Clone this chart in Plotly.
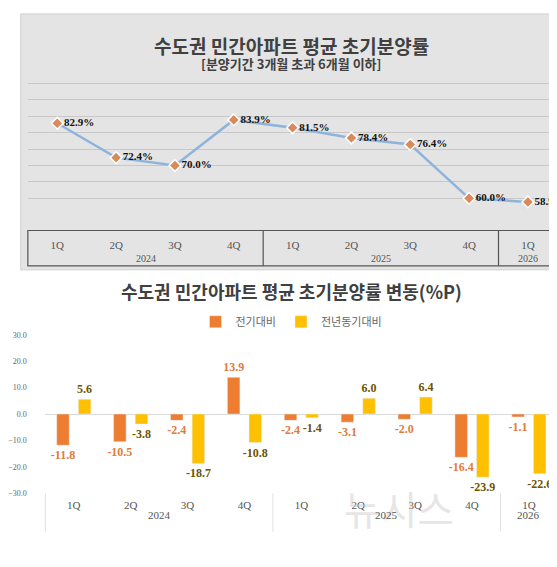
import plotly.graph_objects as go

quarters = ["1Q", "2Q", "3Q", "4Q", "1Q", "2Q", "3Q", "4Q", "1Q"]
years = ["2024", "2025", "2026"]
year_centers = [1.5, 5.5, 8]
year_dividers = [3.5, 7.5]
rate = [82.9, 72.4, 70.0, 83.9, 81.5, 78.4, 76.4, 60.0, 58.9]
qoq = [-11.8, -10.5, -2.4, 13.9, -2.4, -3.1, -2.0, -16.4, -1.1]
yoy = [5.6, -3.8, -18.7, -10.8, -1.4, 6.0, 6.4, -23.9, -22.6]

H = 567
def py(px):
    return 1 - px / H

xs = list(range(len(quarters)))
serif = "Liberation Serif"
sans = "Noto Sans CJK KR"

fig = go.Figure()

# 상단: 초기분양률 라인
fig.add_trace(go.Scatter(
    x=xs, y=rate, mode="lines+markers+text",
    line=dict(color="#8fb4dc", width=2.5),
    marker=dict(symbol="diamond", size=9, color="#d9895a", line=dict(color="white", width=1.5)),
    text=[f"<b>{v:.1f}%</b>" for v in rate], textposition="middle right",
    textfont=dict(family=serif, size=11, color="#111111"),
    xaxis="x", yaxis="y", showlegend=False, cliponaxis=False,
))

# 하단: 변동 막대
fig.add_trace(go.Bar(
    x=xs, y=qoq, name="전기대비", marker_color="#ed7d31", width=0.22, offset=-0.3,
    text=[f"<b>{v:.1f}</b>" for v in qoq], textposition="outside", constraintext="none",
    textfont=dict(family=serif, size=12, color="#e07b3c"),
    xaxis="x2", yaxis="y2", cliponaxis=False,
))
fig.add_trace(go.Bar(
    x=xs, y=yoy, name="전년동기대비", marker_color="#ffc000", width=0.22, offset=0.08,
    text=[f"<b>{v:.1f}</b>" for v in yoy], textposition="outside", constraintext="none",
    textfont=dict(family=serif, size=12, color="#6b5300"),
    xaxis="x2", yaxis="y2", cliponaxis=False,
))

ax_common = dict(range=[-0.5, 8.5], tickmode="array", tickvals=xs, ticktext=quarters,
                 tickfont=dict(family=serif, size=11, color="#555555"), showgrid=False, zeroline=False)

fig.update_layout(
    width=557, height=567, margin=dict(l=0, r=0, t=0, b=0),
    paper_bgcolor="white", plot_bgcolor="rgba(0,0,0,0)",
    xaxis=dict(domain=[0.018, 0.986], anchor="y", ticks="", ticklabelstandoff=22, **ax_common),
    yaxis=dict(domain=[py(206), py(56)], range=[55, 100], dtick=5, showticklabels=False,
               showgrid=True, gridcolor="#c8c8c8", gridwidth=1, zeroline=False),
    xaxis2=dict(domain=[0.050, 0.986], anchor="y2", ticks="", ticklabelstandoff=4, **ax_common),
    yaxis2=dict(domain=[py(489), py(328)], range=[-30, 30], dtick=10, tickformat=".1f",
                tickfont=dict(family=serif, size=8, color="#666666"), showgrid=False,
                zeroline=True, zerolinecolor="#d9d9d9", zerolinewidth=1),
    barmode="overlay",
    legend=dict(orientation="h", x=0.5, xanchor="center", y=py(300), yanchor="top",
                font=dict(family=sans, size=11, color="#666666"), bgcolor="rgba(0,0,0,0)",
                itemwidth=30, tracegroupgap=0),
)

shapes = [
    dict(type="rect", xref="paper", yref="paper", x0=0.005, x1=0.995, y0=py(262), y1=py(2),
         fillcolor="#e4e4e4", line=dict(color="#cfcfcf", width=1), layer="below"),
    dict(type="rect", xref="paper", yref="paper", x0=0.018, x1=0.986, y0=py(258), y1=py(222),
         line=dict(color="#555555", width=1.2)),
]
for d in year_dividers:
    shapes.append(dict(type="line", xref="x", yref="paper", x0=d, x1=d, y0=py(258), y1=py(222),
                       line=dict(color="#555555", width=1.2)))
    shapes.append(dict(type="line", xref="x2", yref="paper", x0=d, x1=d, y0=py(528), y1=py(489),
                       line=dict(color="#e0e0e0", width=1)))
shapes.append(dict(type="line", xref="paper", yref="paper", x0=0.050, x1=0.050, y0=py(528), y1=py(489),
                   line=dict(color="#e0e0e0", width=1)))
shapes.append(dict(type="line", xref="paper", yref="paper", x0=0.986, x1=0.986, y0=py(528), y1=py(489),
                   line=dict(color="#e0e0e0", width=1)))
fig.update_layout(shapes=shapes)

ann = [
    dict(text="<b>수도권 민간아파트 평균 초기분양률</b>", x=0.5, y=py(18), font=dict(family=sans, size=19, color="#404040")),
    dict(text="<b>[분양기간 3개월 초과 6개월 이하]</b>", x=0.5, y=py(41), font=dict(family=sans, size=13, color="#404040")),
    dict(text="<b>수도권 민간아파트 평균 초기분양률 변동(%P)</b>", x=0.5, y=py(283), font=dict(family=sans, size=18, color="#404040")),
    dict(text="뉴시스", x=0.80, y=py(535), font=dict(family=sans, size=40, color="rgba(200,200,200,0.45)")),
]
for a in ann:
    a.update(xref="paper", yref="paper", showarrow=False)
for yr, c in zip(years, year_centers):
    ann.append(dict(text=yr, x=c, y=py(250), xref="x", yref="paper", showarrow=False,
                    font=dict(family=serif, size=10, color="#555555")))
    ann.append(dict(text=yr, x=c, y=py(519), xref="x2", yref="paper", showarrow=False,
                    font=dict(family=serif, size=11, color="#555555")))
fig.update_layout(annotations=ann)

fig.write_html("out.html")
